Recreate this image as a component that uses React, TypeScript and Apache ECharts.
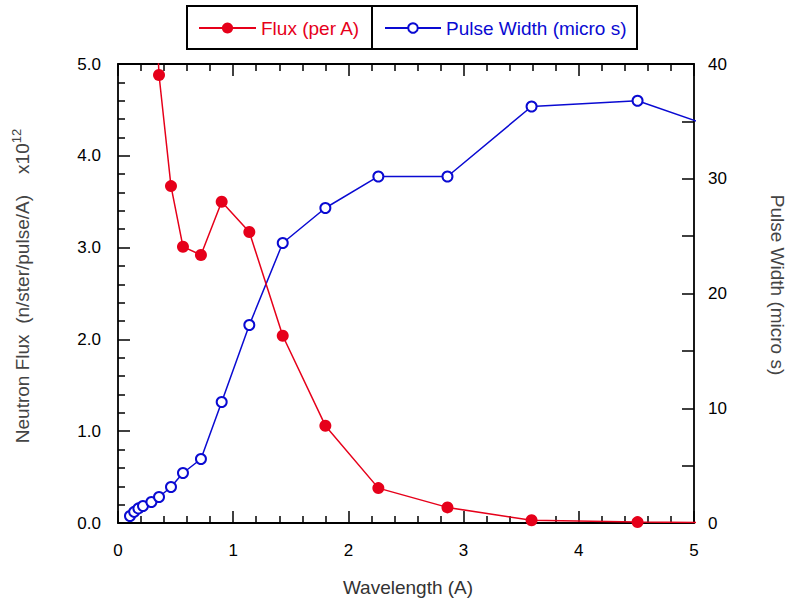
import React, { useEffect, useRef } from "react";
import * as echarts from "echarts";

const fluxWavelengths = [0.286, 0.356, 0.46, 0.564, 0.72, 0.9, 1.14, 1.43, 1.8, 2.26, 2.86, 3.59, 4.51, 5.6];
const fluxValues = [6.8, 4.88, 3.67, 3.01, 2.92, 3.5, 3.17, 2.04, 1.06, 0.38, 0.17, 0.03, 0.01, 0.0];

const pulseWavelengths = [0.104, 0.14, 0.177, 0.217, 0.29, 0.356, 0.46, 0.564, 0.72, 0.9, 1.14, 1.43, 1.8, 2.26, 2.86, 3.59, 4.51, 5.6];
const pulseValues = [0.61, 0.97, 1.27, 1.48, 1.83, 2.27, 3.14, 4.36, 5.58, 10.55, 17.25, 24.4, 27.45, 30.2, 30.2, 36.3, 36.8, 33.0];

const xTicks = [0, 1, 2, 3, 4, 5];
const fluxTicks = [0, 1, 2, 3, 4, 5];
const pulseTicks = [0, 10, 20, 30, 40];

const RED = "#e6001a";
const BLUE = "#0a0ad2";
const FONT = "Liberation Sans, Arial, sans-serif";

export default function App() {
  const ref = useRef<HTMLDivElement>(null);
  useEffect(() => {
    if (!ref.current) return;
    const chart = echarts.init(ref.current, undefined, { renderer: "svg" });
    const tickStyle = { color: "#000", width: 1.5 };
    const axisLine = { show: true, onZero: false, lineStyle: { color: "#000", width: 1.8 } };
    const labelStyle = { color: "#000", fontSize: 17, fontFamily: FONT };
    chart.setOption({
      animation: false,
      backgroundColor: "#fff",
      textStyle: { fontFamily: FONT },
      grid: { left: 118, right: 95, top: 64, bottom: 75, containLabel: false },
      legend: [
        {
          data: [{ name: "Flux (per A)", textStyle: { color: RED } }],
          left: 198,
          top: 17,
          padding: 0,
          itemWidth: 57,
          itemHeight: 14,
          textStyle: { fontSize: 19, fontFamily: FONT, lineHeight: 22 },
        },
        {
          data: [{ name: "Pulse Width (micro s)", textStyle: { color: BLUE } }],
          left: 384,
          top: 17,
          padding: 0,
          itemWidth: 56,
          itemHeight: 12,
          textStyle: { fontSize: 19, fontFamily: FONT, lineHeight: 22 },
        },
      ],
      xAxis: [
        {
          type: "value",
          position: "bottom",
          min: xTicks[0],
          max: xTicks[xTicks.length - 1],
          interval: 1,
          axisLine,
          axisTick: { show: true, inside: true, length: 12, lineStyle: tickStyle },
          minorTick: { show: true, splitNumber: 5, length: 7, lineStyle: tickStyle },
          axisLabel: { ...labelStyle, margin: 19, formatter: (v: number) => String(v) },
          splitLine: { show: false },
        },
        {
          type: "value",
          position: "top",
          min: xTicks[0],
          max: xTicks[xTicks.length - 1],
          interval: 1,
          axisLine,
          axisTick: { show: true, inside: true, length: 12, lineStyle: tickStyle },
          minorTick: { show: true, splitNumber: 5, length: 7, lineStyle: tickStyle },
          axisLabel: { show: false },
          splitLine: { show: false },
        },
      ],
      yAxis: [
        {
          type: "value",
          position: "left",
          min: fluxTicks[0],
          max: fluxTicks[fluxTicks.length - 1],
          interval: 1,
          axisLine,
          axisTick: { show: true, inside: true, length: 12, lineStyle: tickStyle },
          minorTick: { show: true, splitNumber: 5, length: 7, lineStyle: tickStyle },
          axisLabel: { ...labelStyle, margin: 17, formatter: (v: number) => v.toFixed(1) },
          splitLine: { show: false },
        },
        {
          type: "value",
          position: "right",
          min: pulseTicks[0],
          max: pulseTicks[pulseTicks.length - 1],
          interval: 10,
          axisLine,
          axisTick: { show: true, inside: true, length: 12, lineStyle: tickStyle },
          minorTick: { show: true, splitNumber: 2, length: 12, lineStyle: tickStyle },
          axisLabel: { ...labelStyle, margin: 14, formatter: (v: number) => String(v) },
          splitLine: { show: false },
        },
      ],
      series: [
        {
          name: "Flux (per A)",
          type: "line",
          xAxisIndex: 0,
          yAxisIndex: 0,
          clip: true,
          data: fluxWavelengths.map((x, i) => [x, fluxValues[i]]),
          symbol: "circle",
          symbolSize: 12,
          showAllSymbol: true,
          lineStyle: { color: RED, width: 1.5 },
          itemStyle: { color: RED, borderColor: RED, borderWidth: 0 },
          z: 3,
        },
        {
          name: "Pulse Width (micro s)",
          type: "line",
          xAxisIndex: 0,
          yAxisIndex: 1,
          clip: true,
          data: pulseWavelengths.map((x, i) => [x, pulseValues[i]]),
          symbol: "circle",
          symbolSize: 10,
          showAllSymbol: true,
          lineStyle: { color: BLUE, width: 1.5 },
          itemStyle: { color: "#fff", borderColor: BLUE, borderWidth: 2 },
          z: 2,
        },
      ],
      graphic: [
        {
          type: "rect",
          shape: { x: 187, y: 6, width: 450, height: 43 },
          style: { fill: "none", stroke: "#000", lineWidth: 2 },
          z: 1,
        },
        {
          type: "line",
          shape: { x1: 372, y1: 6, x2: 372, y2: 49 },
          style: { stroke: "#000", lineWidth: 2 },
          z: 1,
        },
        {
          type: "text",
          x: 408,
          y: 587,
          style: {
            text: "Wavelength (A)",
            fill: "#333",
            fontSize: 19,
            fontFamily: FONT,
            align: "center",
            verticalAlign: "middle",
          },
        },
        {
          type: "text",
          x: 22,
          y: 286,
          rotation: Math.PI / 2,
          style: {
            text: "{a|Neutron Flux  (n/ster/pulse/A)    x10}{s|12}",
            fill: "#444",
            fontFamily: FONT,
            align: "center",
            verticalAlign: "middle",
            rich: {
              a: { fontSize: 19, lineHeight: 24, fill: "#444", fontFamily: FONT },
              s: { fontSize: 13, lineHeight: 13, verticalAlign: "top", fill: "#444", fontFamily: FONT },
            },
          },
        },
        {
          type: "text",
          x: 777,
          y: 285,
          rotation: -Math.PI / 2,
          style: {
            text: "Pulse Width (micro s)",
            fill: "#444",
            fontSize: 19,
            fontFamily: FONT,
            align: "center",
            verticalAlign: "middle",
          },
        },
      ],
    });
    return () => chart.dispose();
  }, []);
  return <div ref={ref} style={{ width: 789, height: 598, position: "absolute", left: 0, top: 0 }} />;
}
